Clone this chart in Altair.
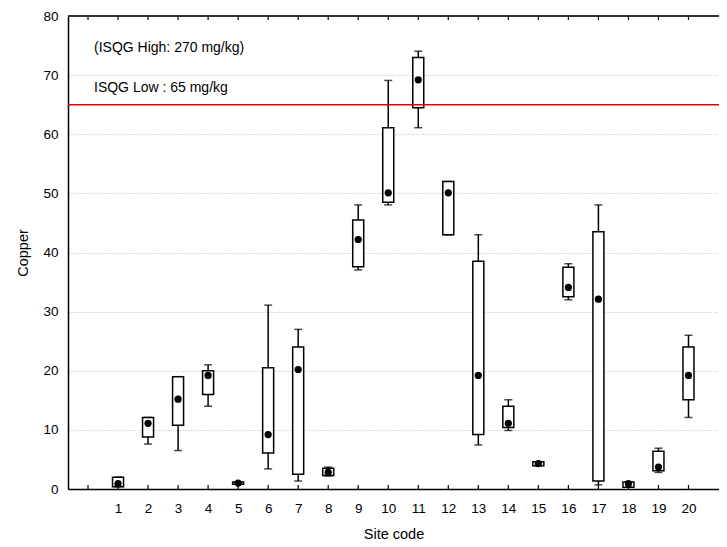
import pandas as pd
import altair as alt

# copper concentration per site
sites = list(range(1, 21))
median = [0.9, 11.1, 15.2, 19.2, 1.0, 9.2, 20.2, 2.8, 42.2, 50.1,
          69.2, 50.1, 19.2, 11.1, 4.3, 34.1, 32.1, 0.9, 3.7, 19.2]
q1 = [0.4, 8.8, 10.8, 16.0, 0.8, 6.1, 2.5, 2.3, 37.6, 48.5,
      64.5, 43.0, 9.2, 10.4, 3.95, 32.5, 1.35, 0.3, 3.1, 15.1]
q3 = [2.0, 12.1, 19.0, 20.0, 1.2, 20.5, 24.0, 3.5, 45.5, 61.1,
      73.0, 52.0, 38.5, 14.0, 4.6, 37.5, 43.5, 1.2, 6.4, 24.0]
lo = [0.4, 7.6, 6.5, 14.0, 0.8, 3.4, 1.35, 2.2, 37.05, 48.05,
      61.1, 43.0, 7.45, 9.9, 3.95, 32.0, 0.7, 0.3, 2.8, 12.1]
hi = [2.0, 12.1, 19.0, 21.0, 1.2, 31.1, 27.0, 3.7, 48.05, 69.1,
      74.05, 52.0, 43.0, 15.1, 4.6, 38.1, 48.05, 1.2, 6.9, 26.0]
tick_pos = list(range(0, 21))
isqg_low = 65
notes = ["(ISQG High: 270 mg/kg)", "ISQG Low : 65 mg/kg"]

df = pd.DataFrame({"site": sites, "median": median, "q1": q1, "q3": q3,
                   "lo": lo, "hi": hi})
ticks_df = pd.DataFrame({"site": tick_pos})

W, H = 651, 473

x_enc = alt.X("site:Q", title="Site code",
              scale=alt.Scale(domain=[-0.5, 20.85], nice=False, zero=False),
              axis=alt.Axis(values=sites, ticks=False, grid=False,
                            labelPadding=12, titlePadding=13,
                            domainColor="black", domainWidth=1.5))
y_scale = alt.Scale(domain=[0, 80], nice=False)
y_axis = alt.Axis(values=list(range(0, 90, 10)), ticks=False, grid=True,
                  gridDash=[1, 2], gridColor="#b8b8b8", labelPadding=10,
                  titlePadding=12, domainColor="black", domainWidth=1.5)

whisk = alt.Chart(df).mark_rule(color="black", strokeWidth=1.5).encode(
    x=x_enc, y=alt.Y("lo:Q", title="Copper", scale=y_scale, axis=y_axis), y2="hi:Q")
cap_lo = alt.Chart(df).mark_tick(orient="horizontal", size=8, thickness=1.5, color="black").encode(
    x=x_enc, y=alt.Y("lo:Q", title="Copper", scale=y_scale, axis=y_axis))
cap_hi = alt.Chart(df).mark_tick(orient="horizontal", size=8, thickness=1.5, color="black").encode(
    x=x_enc, y=alt.Y("hi:Q", title="Copper", scale=y_scale, axis=y_axis))
box = alt.Chart(df).mark_bar(size=11, fill="white", stroke="black", strokeWidth=1.5).encode(
    x=x_enc, y=alt.Y("q1:Q", title="Copper", scale=y_scale, axis=y_axis), y2="q3:Q")
dots = alt.Chart(df).mark_point(filled=True, color="black", size=52, opacity=1).encode(
    x=x_enc, y=alt.Y("median:Q", title="Copper", scale=y_scale, axis=y_axis))

# inward tick marks on the bottom and top frame lines
bot_ticks = alt.Chart(ticks_df).mark_rule(color="black", strokeWidth=1.2).encode(
    x=x_enc, y=alt.value(H), y2=alt.value(H - 4))
top_ticks = alt.Chart(ticks_df).mark_rule(color="black", strokeWidth=1.2).encode(
    x=x_enc, y=alt.value(0), y2=alt.value(4))
top_line = alt.Chart().mark_rule(color="#333333", strokeWidth=2).encode(
    x=alt.value(0), x2=alt.value(W), y=alt.value(0))

red = alt.Chart().mark_rule(color="#e00000", strokeWidth=1.5).encode(
    x=alt.value(0), x2=alt.value(W), y=alt.datum(isqg_low, scale=y_scale))

txt_high = alt.Chart().mark_text(text=notes[0], align="left", baseline="middle",
                                 fontSize=14, font="Liberation Sans").encode(
    x=alt.value(26), y=alt.value(32))
txt_low = alt.Chart().mark_text(text=notes[1], align="left", baseline="middle",
                                fontSize=14, font="Liberation Sans").encode(
    x=alt.value(26), y=alt.value(72))

chart = alt.layer(
    whisk, cap_lo, cap_hi, box, dots, bot_ticks, top_ticks, top_line, red,
    txt_high, txt_low
).properties(
    width=W, height=H, autosize="none",
    padding={"left": 60, "top": 8, "right": 0, "bottom": 58},
).configure_view(stroke=None).configure_axis(
    labelFont="Liberation Sans", titleFont="Liberation Sans",
    labelFontSize=13.5, titleFontSize=14.5, titleFontWeight="normal",
    labelColor="black", titleColor="black",
)

chart.save("out.html", embed_options={"renderer": "svg", "actions": False})
